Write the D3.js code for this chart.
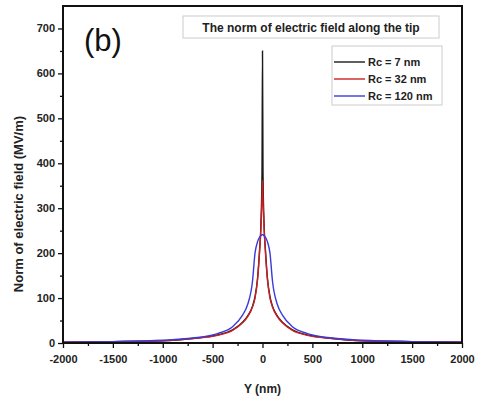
<!DOCTYPE html>
<html>
  <head>
    <meta charset="utf-8">
    <title>field</title>
    <style media="screen">
    body{margin:0;background:#fff}
    text{font-family:"Liberation Sans",Arial,sans-serif}
    </style>
  </head>
  <body>
    <svg width="481" height="405"></svg>
    <script src="https://d3js.org/d3.v7.min.js"></script>
    <script>

    // positions along the tip (nm)
    var ys = [-2000,-1500,-1000,-700,-450,-300,-200,-150,-100,-75,-50,-30,-15,-5,0,
              5,15,30,50,75,100,150,200,300,450,700,1000,1500,2000];

    // field norm (MV/m)
    var rc7   = [2,3,5,10,18,29,46,60,82,103,143,205,270,380,650,
                 380,270,205,143,103,82,60,46,29,18,10,5,3,2];
    var rc32  = [2,3,5,10,17,28,45,58,80,100,140,200,260,320,362,
                 320,260,200,140,100,80,58,45,28,17,10,5,3,2];
    var rc120 = [2,3,6,11,21,36,62,85,138,200,225,235,239,241,241,
                 241,239,235,225,200,138,85,62,36,21,11,6,3,2];

    var names = ["Rc = 7 nm", "Rc = 32 nm", "Rc = 120 nm"];
    var colors = ["#1a1a1a", "#cc2020", "#3a3adc"];
    var xTicks = [-2000,-1500,-1000,-500,0,500,1000,1500,2000];
    var yTicks = [0,100,200,300,400,500,600,700];

    var mLeft = 63, mRight = 462, mTop = 6, mBottom = 343;

    var _x = d3.scaleLinear().domain([-2000, 2000]).range([mLeft, mRight]);
    var _y = d3.scaleLinear().domain([0, 750]).range([mBottom, mTop]);

    var svg = d3.select("svg");

    var series = [rc7, rc32, rc120];
    var line = d3.line()
      .x(function(d, i) { return _x(ys[i]); })
      .y(function(d) { return _y(d); })
      .curve(d3.curveMonotoneX);

    var plot = svg.append("g");
    // black first, then red and blue on top
    series.forEach(function(s, k) {
      plot.append("path").datum(s)
        .attr("fill", "none").attr("stroke", colors[k])
        .attr("stroke-width", 1.4).attr("d", line);
    });

    // axes
    var fontAttrs = function(g) {
      g.selectAll("text").attr("font-size", 11).attr("font-weight", "bold").attr("fill", "#222")
        .attr("font-family", "DejaVu Sans, sans-serif");
      g.select(".domain").remove();
      g.selectAll("line").attr("stroke", "#111").attr("stroke-width", 1.3);
    };

    var gx = svg.append("g").attr("transform", "translate(0," + mBottom + ")")
      .call(d3.axisBottom(_x).tickValues(xTicks).tickSize(5).tickPadding(7)
        .tickFormat(function(d) { return String(d); }))
      .call(fontAttrs);
    gx.append("g").call(d3.axisBottom(_x).tickValues(d3.range(-1750, 2000, 500)).tickSize(3).tickFormat(""))
      .call(fontAttrs);

    var gy = svg.append("g").attr("transform", "translate(" + mLeft + ",0)")
      .call(d3.axisLeft(_y).tickValues(yTicks).tickSize(5).tickPadding(3))
      .call(fontAttrs);
    gy.append("g").call(d3.axisLeft(_y).tickValues(d3.range(50, 750, 100)).tickSize(3).tickFormat(""))
      .call(fontAttrs);

    // frame
    svg.append("rect").attr("x", mLeft).attr("y", mTop)
      .attr("width", mRight - mLeft).attr("height", mBottom - mTop)
      .attr("fill", "none").attr("stroke", "#111").attr("stroke-width", 2);

    // axis titles
    svg.append("text").attr("x", (mLeft + mRight) / 2).attr("y", 393)
      .attr("text-anchor", "middle").attr("font-size", 12).attr("font-weight", "bold").attr("fill", "#222")
      .attr("font-family", "DejaVu Sans, sans-serif")
      .text("Y (nm)");
    svg.append("text").attr("transform", "translate(23,204) rotate(-90)")
      .attr("text-anchor", "middle").attr("font-size", 13).attr("font-weight", "bold").attr("fill", "#222")
      .attr("font-family", "DejaVu Sans, sans-serif")
      .text("Norm of electric field (MV/m)");

    // panel letter
    svg.append("text").attr("x", 84).attr("y", 51).attr("font-size", 31).attr("fill", "#111")
      .text("(b)");

    // title box
    svg.append("rect").attr("x", 183).attr("y", 16).attr("width", 256).attr("height", 22)
      .attr("fill", "#fff").attr("stroke", "#ccc").attr("stroke-width", 1);
    svg.append("text").attr("x", 311).attr("y", 32).attr("text-anchor", "middle")
      .attr("font-size", 12).attr("font-weight", "bold").attr("fill", "#222")
      .text("The norm of electric field along the tip");

    // legend
    var lg = svg.append("g");
    lg.append("rect").attr("x", 332).attr("y", 46).attr("width", 110).attr("height", 59)
      .attr("fill", "#fff").attr("stroke", "#ccc").attr("stroke-width", 1);
    names.forEach(function(n, i) {
      var yy = 62 + i * 17;
      lg.append("line").attr("x1", 334).attr("x2", 365).attr("y1", yy).attr("y2", yy)
        .attr("stroke", colors[i]).attr("stroke-width", 1.4);
      lg.append("text").attr("x", 368).attr("y", yy + 4).attr("font-size", 11)
        .attr("font-weight", "bold").attr("fill", "#222").text(n);
    });

    </script>
  </body>
</html>
